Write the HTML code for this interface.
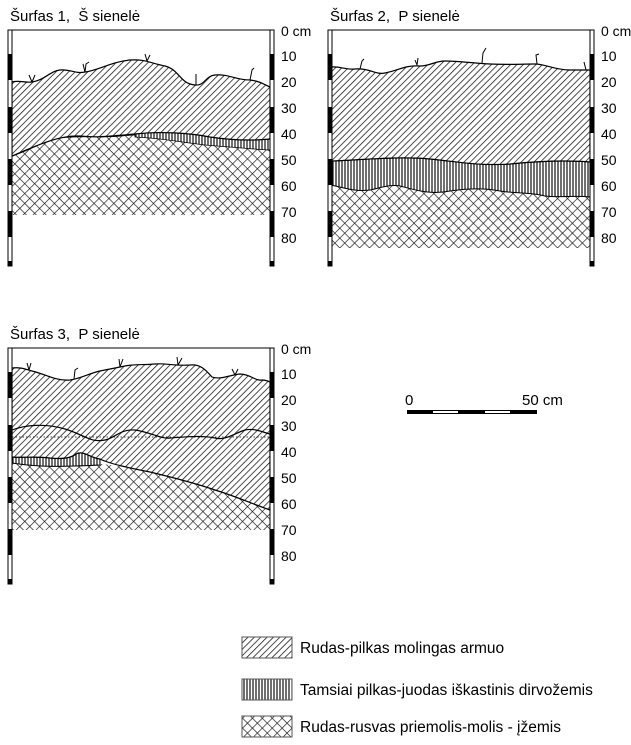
<!DOCTYPE html>
<html><head><meta charset="utf-8"><style>
body{margin:0;background:#fff;width:631px;height:745px;overflow:hidden}
svg{display:block}
text{font-family:"Liberation Sans",Arial,sans-serif;fill:#000;white-space:pre}
</style></head><body>
<svg width="631" height="745" viewBox="0 0 631 745" xmlns="http://www.w3.org/2000/svg">
<defs>
<pattern id="diag" patternUnits="userSpaceOnUse" width="4.5" height="4.5" patternTransform="rotate(45)">
<rect width="4.5" height="4.5" fill="#fff"/><line x1="0" y1="0" x2="0" y2="4.5" stroke="#111" stroke-width="1.5"/>
</pattern>
<pattern id="vert" patternUnits="userSpaceOnUse" width="3" height="10">
<rect width="3" height="10" fill="#fff"/><line x1="1" y1="0" x2="1" y2="10" stroke="#111" stroke-width="1.2"/>
</pattern>
<pattern id="cross" patternUnits="userSpaceOnUse" width="7" height="7" patternTransform="rotate(45)">
<rect width="7" height="7" fill="#fff"/><line x1="0" y1="0" x2="0" y2="7" stroke="#111" stroke-width="1.3"/><line x1="0" y1="0" x2="7" y2="0" stroke="#111" stroke-width="1.3"/>
</pattern>
<g id="poles">
<line x1="10" y1="30" x2="272" y2="30" stroke="#000" stroke-width="1"/>
<g id="pole">
<rect x="8" y="30" width="4" height="236" fill="#fff" stroke="#000" stroke-width="1"/>
<rect x="8" y="54" width="4" height="26" fill="#000"/>
<rect x="8" y="107" width="4" height="26" fill="#000"/>
<rect x="8" y="159" width="4" height="26" fill="#000"/>
<rect x="8" y="211" width="4" height="26" fill="#000"/>
<rect x="8" y="261" width="4" height="5" fill="#000"/>
</g>
<use href="#pole" x="262"/>
<g font-size="14">
<text x="281" y="36">0 cm</text><text x="281" y="61">10</text><text x="281" y="87">20</text>
<text x="281" y="113">30</text><text x="281" y="139">40</text><text x="281" y="165">50</text>
<text x="281" y="191">60</text><text x="281" y="217">70</text><text x="281" y="243">80</text>
</g>
</g>
</defs>

<!-- Panel 1 -->
<text x="10" y="21" font-size="15">Šurfas 1,  Š sienelė</text>
<path d="M12,156 C30,150 45,140 60,138 C80,135 100,138 120,136 C140,134 160,133 180,136 C200,140 230,145 270,150 L270,215 L12,215 Z" fill="url(#cross)"/>
<path d="M12,156 C30,150 45,140 60,138 C80,135 100,138 120,136 C140,134 160,133 180,136 C200,140 230,145 270,150" fill="none" stroke="#000" stroke-width="1"/>
<path d="M135,134 C160,131 190,133 210,137 C230,140 250,141 270,139 L270,150 C250,149 230,147 205,145 C180,142 160,138 135,137 Z" fill="url(#vert)" stroke="#000" stroke-width="0.8"/>
<path d="M12,82 C20,80 25,83 32,82 C45,80 50,71 60,70 C70,69 75,74 85,72 C100,70 110,62 130,60 C145,59 150,63 165,66 C180,70 180,84 195,85 C205,86 205,76 215,75 C230,74 235,80 250,80 C260,81 265,85 270,87 L270,139 C250,141 230,140 210,137 C190,133 160,131 135,134 C110,136 100,138 80,136 C60,135 40,144 12,156 Z" fill="url(#diag)" stroke="#000" stroke-width="1.2"/>
<g stroke="#000" stroke-width="1" fill="none">
<path d="M32,82 l-3,-7 M32,82 l3,-7"/><path d="M85,72 l-2,-8 M85,72 l1,-8 l3,-2"/>
<path d="M147,61 l-2,-7 M147,61 l3,-6"/><path d="M196,85 l0,-11"/><path d="M250,80 l2,-10 l2,-2"/>
</g>
<use href="#poles"/>

<!-- Panel 2 -->
<text x="330" y="21" font-size="15">Šurfas 2,  P sienelė</text>
<g transform="translate(320,0)">
<path d="M11,185 C25,188 35,192 50,190 C60,188 70,184 80,186 C95,190 110,195 130,191 C150,188 165,188 180,191 C200,194 210,192 225,196 C240,198 255,195 270,197 L270,248 L11,248 Z" fill="url(#cross)"/>
<path d="M11,161 C40,160 80,156 110,159 C140,162 160,166 190,164 C220,161 245,160 270,162 L270,197 C255,195 240,198 225,196 C210,192 200,194 180,191 C165,188 150,188 130,191 C110,195 95,190 80,186 C70,184 60,188 50,190 C35,192 25,188 11,185 Z" fill="url(#vert)" stroke="#000" stroke-width="1"/>
<path d="M11,67 C20,66 25,70 35,69 C50,68 55,75 65,73 C80,70 85,65 100,66 C110,66 115,61 125,61 C140,61 150,63 170,64 C190,65 200,64 215,64 C225,64 235,70 250,70 C260,70 265,70 270,70 L270,162 C245,160 220,161 190,164 C160,166 140,162 110,159 C80,156 40,160 11,161 Z" fill="url(#diag)" stroke="#000" stroke-width="1.2"/>
<g stroke="#000" stroke-width="1" fill="none">
<path d="M40,69 l2,-8 l2,-2"/><path d="M97,65 l-2,-5 M97,65 l1,-7"/><path d="M162,63 l1,-10 l3,-5"/><path d="M217,64 l-1,-9 l3,-1"/><path d="M266,70 l-2,-8"/>
</g>
<use href="#poles"/>
</g>

<!-- Panel 3 -->
<text x="10" y="339" font-size="15">Šurfas 3,  P sienelė</text>
<g transform="translate(0,318)">
<path d="M12,144 C40,147 60,145 90,145 C110,146 130,150 150,154 C175,160 195,165 215,172 C235,178 250,185 270,192 L270,212 L12,212 Z" fill="url(#cross)"/>
<path d="M12,139 C25,140 35,138 50,140 C60,141 70,141 76,136 C84,132 90,140 100,141 L100,147 C80,148 60,149 40,148 C25,147 18,146 12,145 Z" fill="url(#vert)" stroke="#000" stroke-width="1"/>
<path d="M12,50 C20,49 25,51 32,53 C45,56 55,63 70,62 C80,61 90,55 100,53 C110,51 115,50 125,48 C135,46 145,47 155,46 C165,45 175,48 190,47 C200,46 205,51 212,59 C220,62 230,57 240,56 C250,56 255,63 262,62 C266,62 268,63 270,64 L270,192 C250,185 235,178 215,172 C195,165 175,160 150,154 C130,150 110,146 100,141 C90,140 84,132 76,136 C70,141 60,141 50,140 C35,138 25,140 12,139 Z" fill="url(#diag)" stroke="#000" stroke-width="1.2"/>
<path d="M12,112 C25,107 45,105 65,111 C85,117 90,125 105,122 C115,120 120,111 135,112 C150,114 160,121 170,120 C185,119 200,117 215,120 C225,123 235,115 245,112 C255,110 262,114 270,116" fill="none" stroke="#000" stroke-width="1.2"/>
<line x1="12" y1="119" x2="270" y2="119" stroke="#000" stroke-width="0.8" stroke-dasharray="1.5,2"/>
<g stroke="#000" stroke-width="1" fill="none">
<path d="M29,52 l-2,-7 M29,52 l2,-7"/><path d="M74,61 l1,-9 l3,-2"/><path d="M120,49 l-1,-8 M120,49 l3,-8"/><path d="M178,47 l-1,-8 M178,47 l4,-7"/><path d="M235,57 l-3,-6 M235,57 l3,-6"/>
</g>
<use href="#poles"/>
</g>

<!-- Scale bar -->
<text x="405" y="405" font-size="15">0</text>
<text x="522" y="405" font-size="15">50 cm</text>
<rect x="407" y="410" width="130" height="4" fill="#000"/>
<rect x="433" y="411" width="25" height="2" fill="#fff"/>
<rect x="485" y="411" width="25" height="2" fill="#fff"/>

<!-- Legend -->
<rect x="242" y="637" width="50" height="21" fill="url(#diag)" stroke="#555" stroke-width="1"/>
<text x="300" y="653" font-size="15.5">Rudas-pilkas molingas armuo</text>
<rect x="242" y="679" width="50" height="21" fill="url(#vert)" stroke="#555" stroke-width="1"/>
<text x="300" y="695" font-size="15.5">Tamsiai pilkas-juodas iškastinis dirvožemis</text>
<rect x="242" y="716" width="50" height="21" fill="url(#cross)" stroke="#555" stroke-width="1"/>
<text x="300" y="732" font-size="15.5">Rudas-rusvas priemolis-molis - įžemis</text>
</svg>
</body></html>
